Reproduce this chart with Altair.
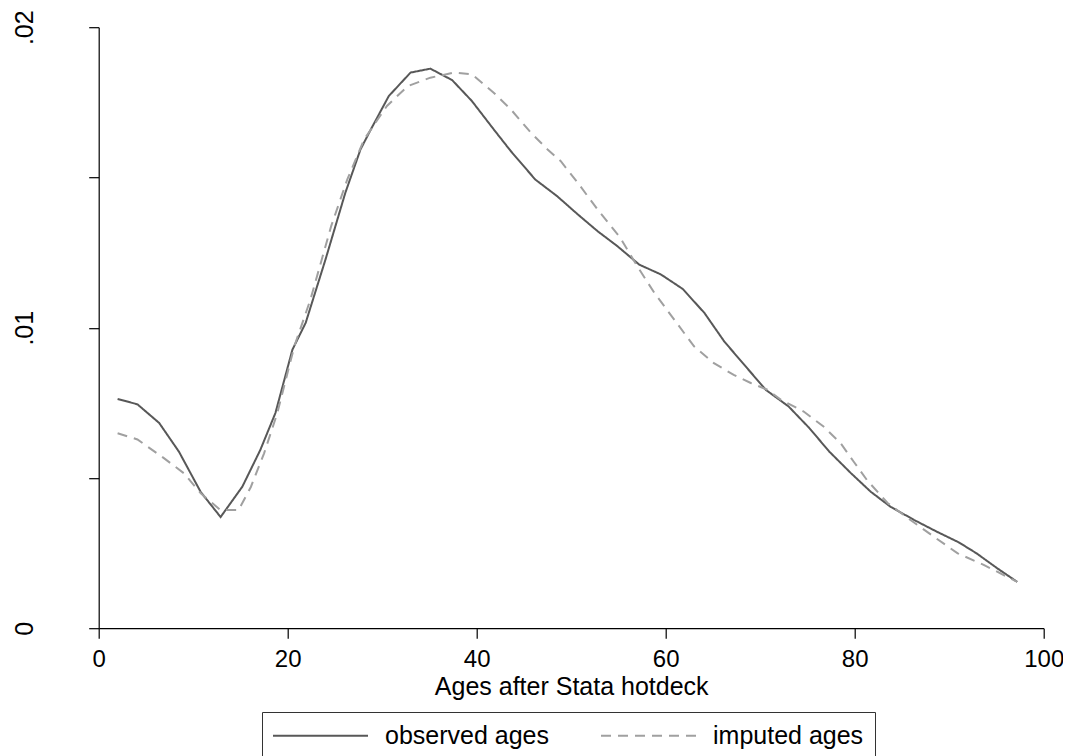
import altair as alt
import pandas as pd

# ---- data ----
series_names = ["observed ages", "imputed ages"]

obs_age = [2.0, 4.1, 6.4, 8.5, 10.8, 12.9, 15.2, 17.1, 18.7, 20.5, 21.9, 24.0,
           26.1, 27.7, 28.8, 30.7, 33.0, 35.1, 37.4, 39.5, 41.8, 43.6, 46.2,
           48.5, 50.7, 52.8, 54.9, 57.2, 59.5, 61.8, 64.1, 66.2, 68.3, 70.6,
           73.0, 75.2, 77.3, 79.6, 81.7, 83.8, 86.3, 88.7, 91.0, 92.9, 95.1, 97.2]
obs_val = [0.00763, 0.00745, 0.00683, 0.00587, 0.00453, 0.00370, 0.00471,
           0.00593, 0.00716, 0.00927, 0.01016, 0.01227, 0.01449, 0.01593,
           0.01660, 0.01771, 0.01849, 0.01862, 0.01824, 0.01754, 0.01660,
           0.01588, 0.01493, 0.01438, 0.01377, 0.01321, 0.01271, 0.01210,
           0.01177, 0.01129, 0.01049, 0.00954, 0.00877, 0.00793, 0.00738,
           0.00666, 0.00588, 0.00516, 0.00454, 0.00404, 0.00360, 0.00321,
           0.00286, 0.00249, 0.00199, 0.00154]

imp_age = [2.0, 4.1, 6.9, 9.0, 10.8, 12.9, 14.8, 16.1, 17.5, 18.9, 20.7, 22.4,
           24.6, 26.3, 28.1, 30.5, 32.7, 35.1, 37.6, 39.5, 41.8, 43.6, 45.7,
           47.5, 48.9, 50.7, 52.8, 55.2, 57.0, 58.8, 60.9, 63.0, 65.1, 67.2,
           69.0, 70.8, 72.2, 74.6, 76.7, 78.5, 79.9, 81.3, 83.5, 85.9, 88.4,
           90.9, 93.7, 97.2]
imp_val = [0.00649, 0.00628, 0.00566, 0.00516, 0.00449, 0.00393, 0.00393,
           0.00470, 0.00582, 0.00716, 0.00938, 0.01093, 0.01338, 0.01493,
           0.01627, 0.01738, 0.01804, 0.01832, 0.01849, 0.01843, 0.01782,
           0.01727, 0.01650, 0.01593, 0.01554, 0.01482, 0.01393, 0.01299,
           0.01204, 0.01116, 0.01027, 0.00938, 0.00882, 0.00843, 0.00816,
           0.00793, 0.00760, 0.00721, 0.00671, 0.00616, 0.00554, 0.00493,
           0.00416, 0.00360, 0.00304, 0.00249, 0.00210, 0.00154]

x_ticks = [0, 20, 40, 60, 80, 100]
y_ticks = [0, 0.005, 0.01, 0.015, 0.02]
x_title = "Ages after Stata hotdeck"

df = pd.concat([
    pd.DataFrame({"age": obs_age, "density": obs_val, "series": series_names[0]}),
    pd.DataFrame({"age": imp_age, "density": imp_val, "series": series_names[1]}),
], ignore_index=True)

FONT = "Liberation Sans"

color_scale = alt.Scale(domain=series_names, range=["#585858", "#a0a0a0"])
dash_scale = alt.Scale(domain=series_names, range=[[1, 0], [10, 7]])

legend = alt.Legend(
    title=None, orient="none", legendX=163.3, legendY=684.8,
    direction="horizontal", strokeColor="#333333", padding=11,
    symbolType="M-5,0H5", symbolSize=361, symbolStrokeWidth=2,
    symbolOffset=35, labelOffset=52, columnPadding=47,
    labelFont=FONT, labelFontSize=25, labelColor="black", labelLimit=400,
)

chart = alt.Chart(df).mark_line(strokeWidth=2).encode(
    x=alt.X("age:Q",
            scale=alt.Scale(domain=[0, 100], nice=False, zero=False),
            axis=alt.Axis(values=x_ticks, format="d", title=x_title,
                          tickSize=10, labelPadding=9, labelFlush=False,
                          labelFontSize=24,
                          titleBaseline="alphabetic", titleY=66)),
    y=alt.Y("density:Q",
            scale=alt.Scale(domain=[0, 0.02], nice=False),
            axis=alt.Axis(values=y_ticks, title=None,
                          labelExpr="datum.value == 0 ? '0' : datum.value == 0.01 ? '.01' : datum.value == 0.02 ? '.02' : ''",
                          labelAngle=270, labelAlign="center",
                          labelBaseline="alphabetic", labelFlush=False,
                          tickSize=10, labelPadding=56)),
    color=alt.Color("series:N", scale=color_scale, legend=legend),
    strokeDash=alt.StrokeDash("series:N", scale=dash_scale, legend=legend),
).properties(
    width=945, height=601,
    autosize=alt.AutoSizeParams(type="none"),
    padding={"left": 90.7, "top": 19.2, "right": 19.3, "bottom": 127.8},
    background="white",
).configure_view(
    strokeWidth=0
).configure_axis(
    grid=False, domainColor="black", tickColor="black", domainWidth=1.2,
    tickWidth=1.2, labelColor="black", labelFont=FONT, labelFontSize=25,
    titleColor="black", titleFont=FONT, titleFontSize=25,
    titleFontWeight="normal", labelOverlap=False,
)

chart.save("out.html", embed_options={"renderer": "svg", "actions": False})
